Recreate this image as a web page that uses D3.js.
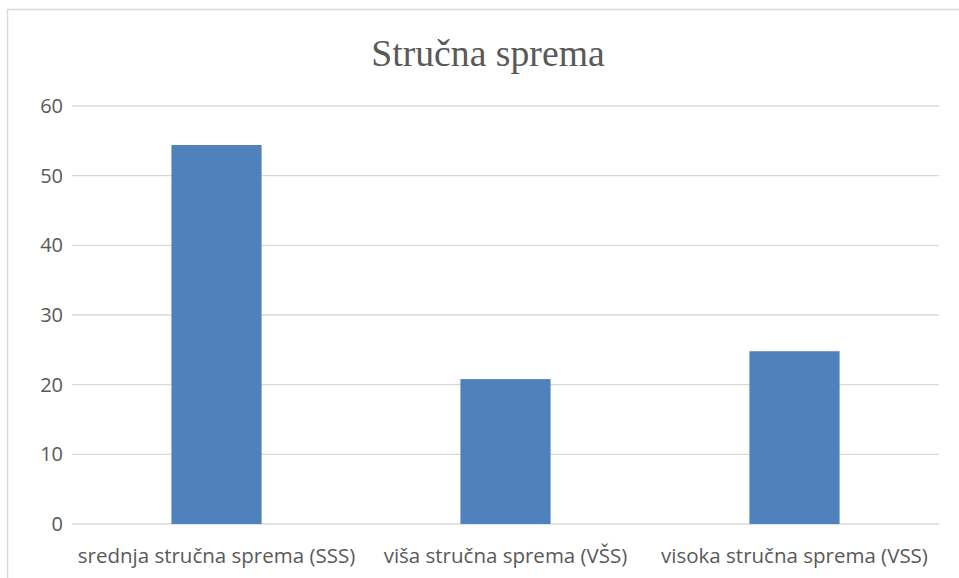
<!DOCTYPE html>
<html>
<head>
<meta charset="utf-8">
<script src="https://cdn.jsdelivr.net/npm/d3@7"></script>
<style>
  html, body { margin: 0; padding: 0; background: #fff; }
  svg { display: block; }
</style>
</head>
<body>
<svg id="chart" width="959" height="578"></svg>
<script>
const title = "Stručna sprema";
const categories = ["srednja stručna sprema (SSS)", "viša stručna sprema (VŠS)", "visoka stručna sprema (VSS)"];
const values = [54.4, 20.8, 24.8];
const yTicks = [0, 10, 20, 30, 40, 50, 60];

const svg = d3.select("#chart");
const plot = { left: 72, right: 939, top: 106, bottom: 524 };

// outer frame
svg.append("rect")
  .attr("x", 7.5).attr("y", 9.5)
  .attr("width", 980).attr("height", 600)
  .attr("fill", "#fff").attr("stroke", "#d9d9d9").attr("stroke-width", 1.5);

const x = d3.scaleBand()
  .domain(categories)
  .range([plot.left, plot.right])
  .paddingInner(0.688)
  .paddingOuter(0.344);

const y = d3.scaleLinear()
  .domain([0, 60])
  .range([plot.bottom, plot.top]);

// gridlines
svg.append("g")
  .selectAll("line")
  .data(yTicks)
  .join("line")
  .attr("x1", plot.left).attr("x2", plot.right)
  .attr("y1", d => y(d)).attr("y2", d => y(d))
  .attr("stroke", "#d9d9d9").attr("stroke-width", 1.3);

// y axis labels
const yAxis = d3.axisLeft(y).tickValues(yTicks).tickSize(0).tickPadding(9);
const gy = svg.append("g").attr("transform", `translate(${plot.left},0)`).call(yAxis);
gy.select(".domain").remove();
gy.selectAll("text")
  .attr("fill", "#595959")
  .style("font-family", "'Open Sans', 'Noto Sans', sans-serif")
  .style("font-size", "20px");

// bars
svg.append("g")
  .selectAll("rect")
  .data(values)
  .join("rect")
  .attr("x", (d, i) => x(categories[i]))
  .attr("width", x.bandwidth())
  .attr("y", d => y(d))
  .attr("height", d => y(0) - y(d))
  .attr("fill", "#4f81bd");

// x axis labels
const xAxis = d3.axisBottom(x).tickSize(0).tickPadding(24);
const gx = svg.append("g").attr("transform", `translate(0,${plot.bottom})`).call(xAxis);
gx.select(".domain").remove();
gx.selectAll("text")
  .attr("fill", "#595959")
  .style("font-family", "'Open Sans', 'Noto Sans', sans-serif")
  .style("font-size", "20.5px");

// title
svg.append("text")
  .attr("x", 488).attr("y", 66)
  .attr("text-anchor", "middle")
  .attr("fill", "#595959")
  .style("font-family", "'Liberation Serif', 'Times New Roman', serif")
  .style("font-size", "37.7px")
  .text(title);
</script>
</body>
</html>
